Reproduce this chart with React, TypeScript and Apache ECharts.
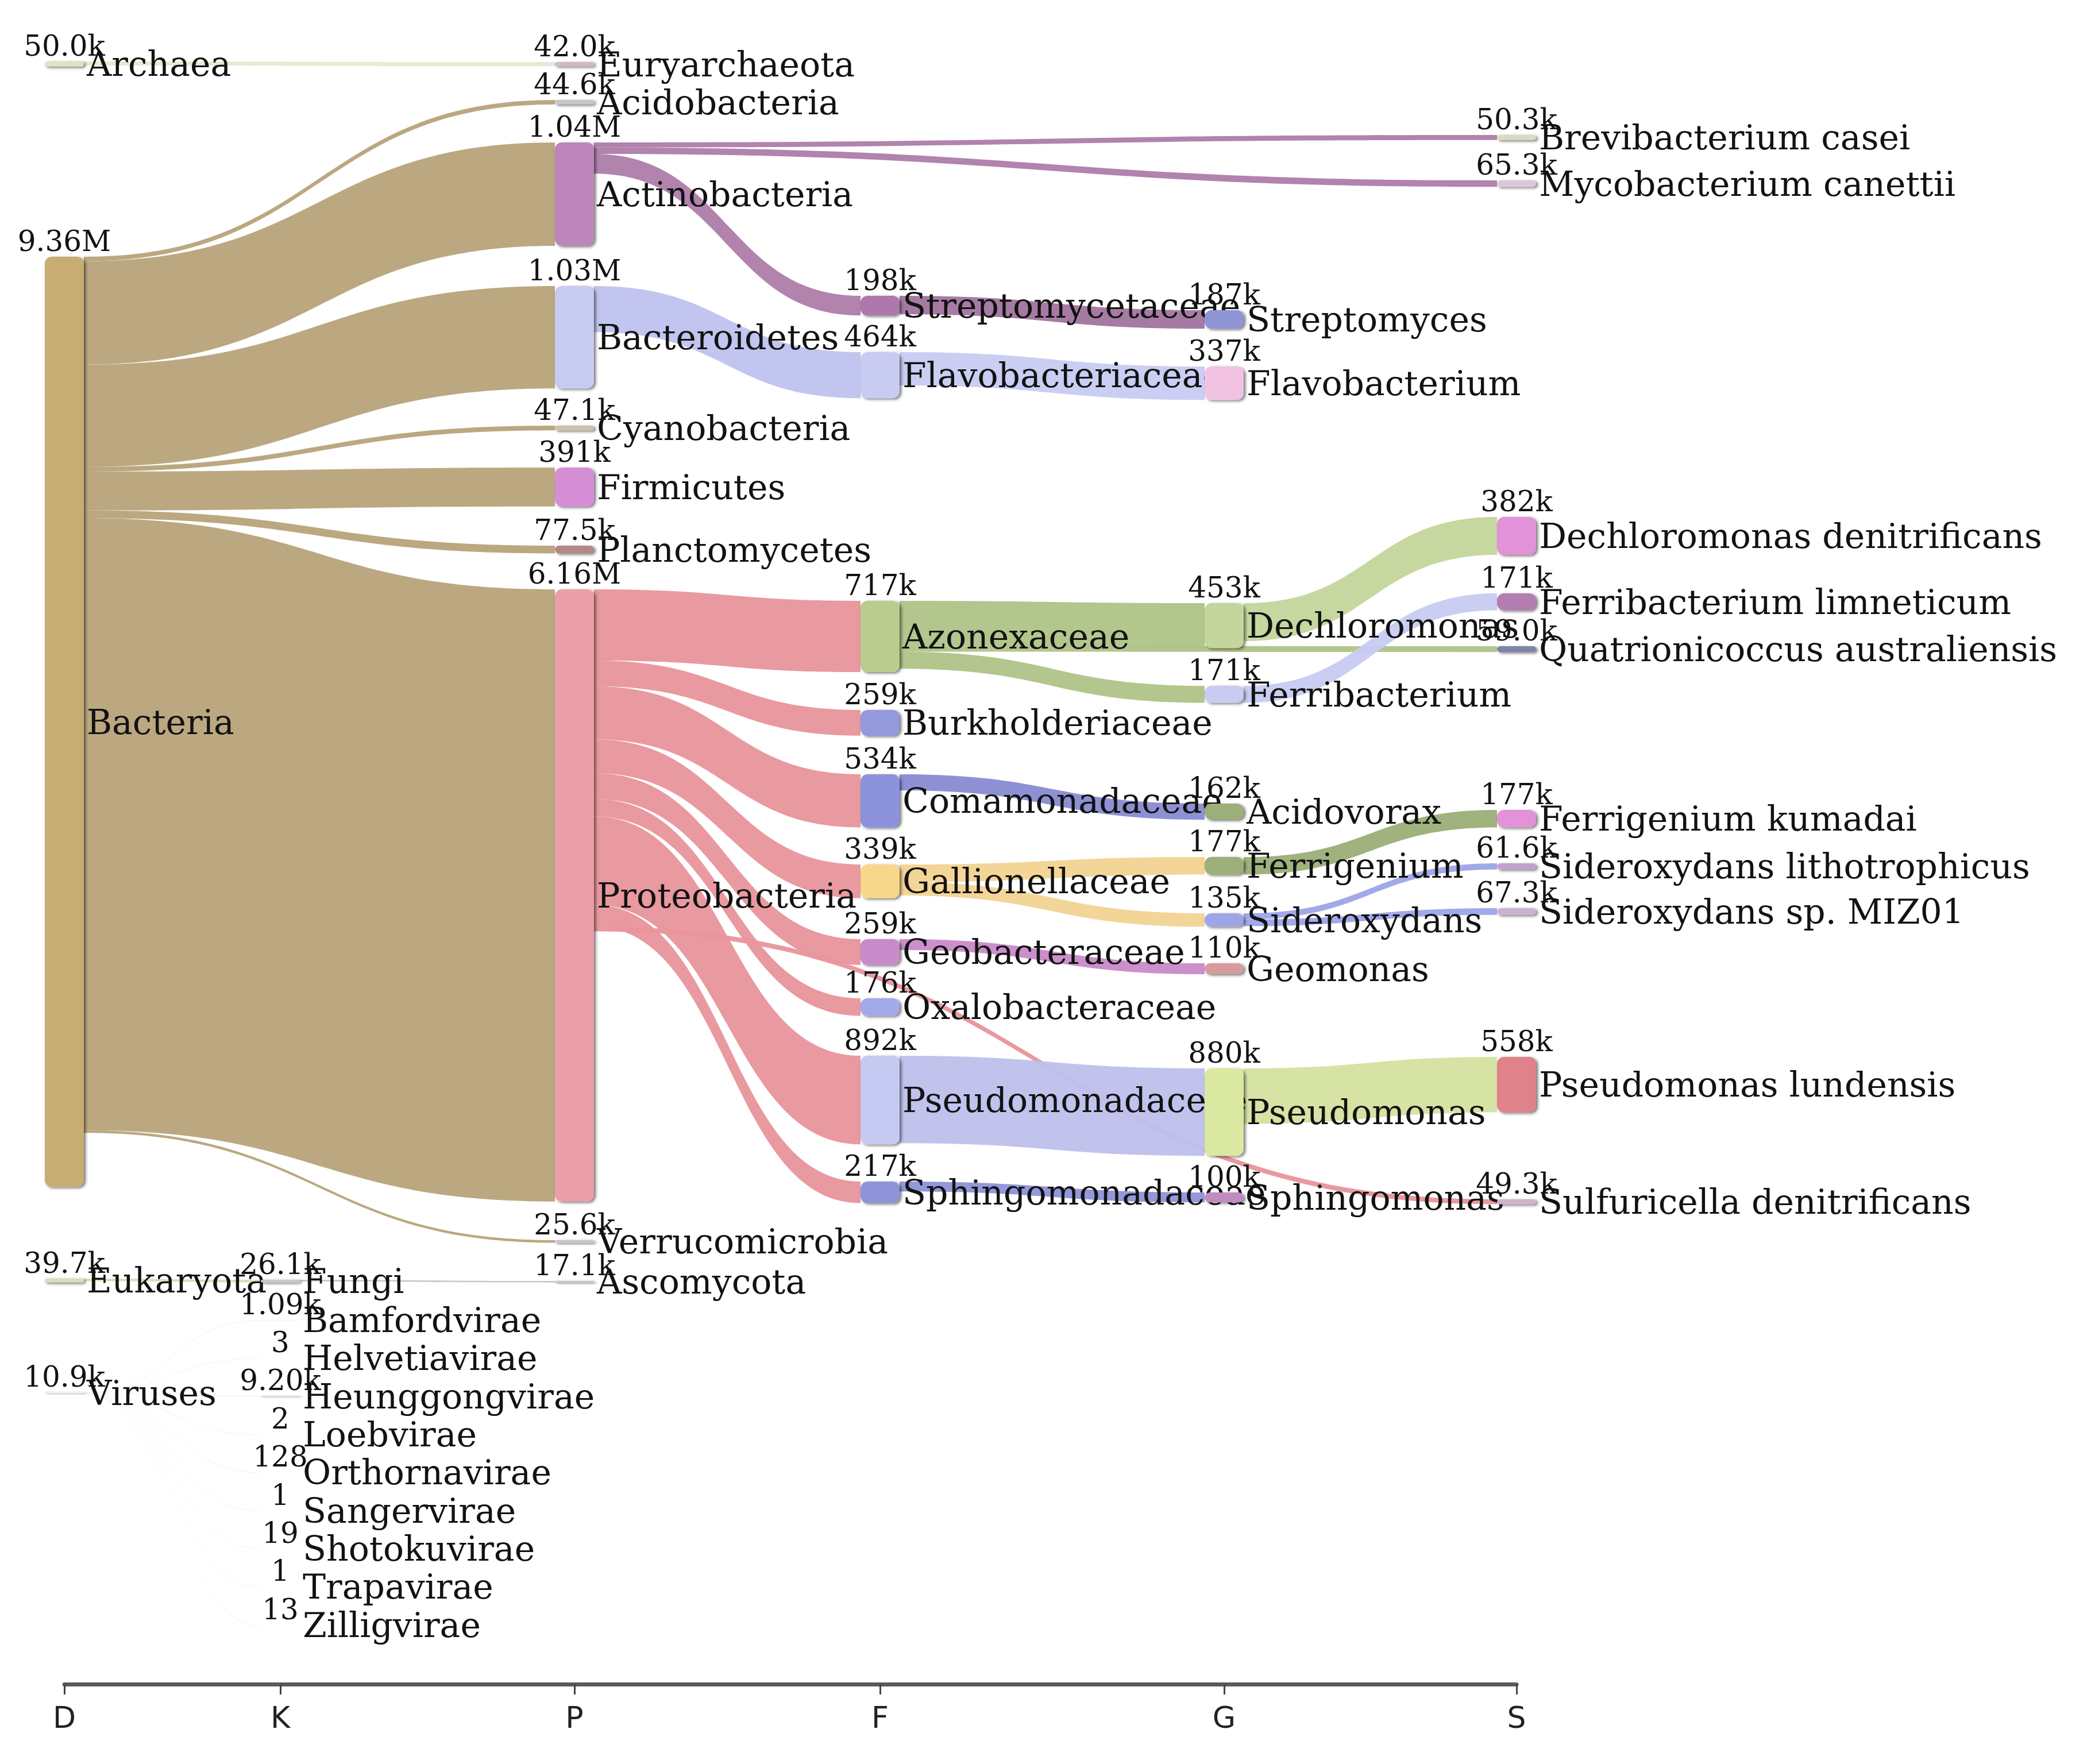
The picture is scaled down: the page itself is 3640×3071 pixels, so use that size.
import React, { useEffect, useRef } from "react";
import * as echarts from "echarts";

// ---------------- data ----------------
const rankLetters = ["D", "K", "P", "F", "G", "S"];

const domainNames = ["Archaea", "Bacteria", "Eukaryota", "Viruses"];
const domainReads = [50000, 9360000, 39700, 10900];

const kingdomNames = [
  "Fungi", "Bamfordvirae", "Helvetiavirae", "Heunggongvirae", "Loebvirae",
  "Orthornavirae", "Sangervirae", "Shotokuvirae", "Trapavirae", "Zilligvirae",
];
const kingdomReads = [26100, 1090, 3, 9200, 2, 128, 1, 19, 1, 13];

const phylumNames = [
  "Euryarchaeota", "Acidobacteria", "Actinobacteria", "Bacteroidetes", "Cyanobacteria",
  "Firmicutes", "Planctomycetes", "Proteobacteria", "Verrucomicrobia", "Ascomycota",
];
const phylumReads = [42000, 44600, 1040000, 1030000, 47100, 391000, 77500, 6160000, 25600, 17100];

const familyNames = [
  "Streptomycetaceae", "Flavobacteriaceae", "Azonexaceae", "Burkholderiaceae", "Comamonadaceae",
  "Gallionellaceae", "Geobacteraceae", "Oxalobacteraceae", "Pseudomonadaceae", "Sphingomonadaceae",
];
const familyReads = [198000, 464000, 717000, 259000, 534000, 339000, 259000, 176000, 892000, 217000];

const genusNames = [
  "Streptomyces", "Flavobacterium", "Dechloromonas", "Ferribacterium", "Acidovorax",
  "Ferrigenium", "Sideroxydans", "Geomonas", "Pseudomonas", "Sphingomonas",
];
const genusReads = [187000, 337000, 453000, 171000, 162000, 177000, 135000, 110000, 880000, 100000];

const speciesNames = [
  "Brevibacterium casei", "Mycobacterium canettii", "Dechloromonas denitrificans",
  "Ferribacterium limneticum", "Quatrionicoccus australiensis", "Ferrigenium kumadai",
  "Sideroxydans lithotrophicus", "Sideroxydans sp. MIZ01", "Pseudomonas lundensis",
  "Sulfuricella denitrificans",
];
const speciesReads = [50300, 65300, 382000, 171000, 59000, 177000, 61600, 67300, 558000, 49300];

// parent -> child (flow value = reads of the child); listed top-to-bottom per parent
const parentChild: [string, string][] = [
  ["Archaea", "Euryarchaeota"],
  ["Bacteria", "Acidobacteria"],
  ["Bacteria", "Actinobacteria"],
  ["Bacteria", "Bacteroidetes"],
  ["Bacteria", "Cyanobacteria"],
  ["Bacteria", "Firmicutes"],
  ["Bacteria", "Planctomycetes"],
  ["Bacteria", "Proteobacteria"],
  ["Bacteria", "Verrucomicrobia"],
  ["Eukaryota", "Fungi"],
  ["Fungi", "Ascomycota"],
  ["Viruses", "Bamfordvirae"],
  ["Viruses", "Helvetiavirae"],
  ["Viruses", "Heunggongvirae"],
  ["Viruses", "Loebvirae"],
  ["Viruses", "Orthornavirae"],
  ["Viruses", "Sangervirae"],
  ["Viruses", "Shotokuvirae"],
  ["Viruses", "Trapavirae"],
  ["Viruses", "Zilligvirae"],
  ["Actinobacteria", "Brevibacterium casei"],
  ["Actinobacteria", "Mycobacterium canettii"],
  ["Actinobacteria", "Streptomycetaceae"],
  ["Streptomycetaceae", "Streptomyces"],
  ["Bacteroidetes", "Flavobacteriaceae"],
  ["Flavobacteriaceae", "Flavobacterium"],
  ["Proteobacteria", "Azonexaceae"],
  ["Proteobacteria", "Burkholderiaceae"],
  ["Proteobacteria", "Comamonadaceae"],
  ["Proteobacteria", "Gallionellaceae"],
  ["Proteobacteria", "Geobacteraceae"],
  ["Proteobacteria", "Oxalobacteraceae"],
  ["Proteobacteria", "Pseudomonadaceae"],
  ["Proteobacteria", "Sphingomonadaceae"],
  ["Proteobacteria", "Sulfuricella denitrificans"],
  ["Azonexaceae", "Dechloromonas"],
  ["Azonexaceae", "Quatrionicoccus australiensis"],
  ["Azonexaceae", "Ferribacterium"],
  ["Dechloromonas", "Dechloromonas denitrificans"],
  ["Ferribacterium", "Ferribacterium limneticum"],
  ["Comamonadaceae", "Acidovorax"],
  ["Gallionellaceae", "Ferrigenium"],
  ["Gallionellaceae", "Sideroxydans"],
  ["Ferrigenium", "Ferrigenium kumadai"],
  ["Sideroxydans", "Sideroxydans lithotrophicus"],
  ["Sideroxydans", "Sideroxydans sp. MIZ01"],
  ["Geobacteraceae", "Geomonas"],
  ["Pseudomonadaceae", "Pseudomonas"],
  ["Pseudomonas", "Pseudomonas lundensis"],
  ["Sphingomonadaceae", "Sphingomonas"],
];

// ---------------- layout (pixels in the 3640 x 3071 page) ----------------
const columnCenterX = [112, 488, 1000, 1532, 2131, 2640];
const nodeTopY: Record<string, number> = {
  Archaea: 107, Bacteria: 447, Eukaryota: 2226, Viruses: 2424,
  Fungi: 2228, Bamfordvirae: 2298, Helvetiavirae: 2364, Heunggongvirae: 2430,
  Loebvirae: 2497, Orthornavirae: 2563, Sangervirae: 2630, Shotokuvirae: 2696,
  Trapavirae: 2762, Zilligvirae: 2829,
  Euryarchaeota: 108, Acidobacteria: 174, Actinobacteria: 248, Bacteroidetes: 498,
  Cyanobacteria: 741, Firmicutes: 814, Planctomycetes: 950, Proteobacteria: 1026,
  Verrucomicrobia: 2159, Ascomycota: 2230,
  Streptomycetaceae: 515, Flavobacteriaceae: 613, Azonexaceae: 1046, Burkholderiaceae: 1236,
  Comamonadaceae: 1348, Gallionellaceae: 1505, Geobacteraceae: 1635, Oxalobacteraceae: 1738,
  Pseudomonadaceae: 1838, Sphingomonadaceae: 2057,
  Streptomyces: 540, Flavobacterium: 638, Dechloromonas: 1050, Ferribacterium: 1194,
  Acidovorax: 1399, Ferrigenium: 1492, Sideroxydans: 1590, Geomonas: 1677,
  Pseudomonas: 1860, Sphingomonas: 2076,
  "Brevibacterium casei": 235, "Mycobacterium canettii": 314,
  "Dechloromonas denitrificans": 900, "Ferribacterium limneticum": 1033,
  "Quatrionicoccus australiensis": 1125, "Ferrigenium kumadai": 1410,
  "Sideroxydans lithotrophicus": 1503, "Sideroxydans sp. MIZ01": 1581,
  "Pseudomonas lundensis": 1840, "Sulfuricella denitrificans": 2088,
};

// ---------------- styles ----------------
const nodeColor: Record<string, string> = {
  Archaea: "#dfe3c2", Bacteria: "#c8ad72", Eukaryota: "#dcdcb8", Viruses: "#f2f2ea",
  Fungi: "#c8c8c8", Bamfordvirae: "#d6d6e6", Helvetiavirae: "#d6d6e6", Heunggongvirae: "#d6d6e6",
  Loebvirae: "#d6d6e6", Orthornavirae: "#d6d6e6", Sangervirae: "#d6d6e6", Shotokuvirae: "#d6d6e6",
  Trapavirae: "#d6d6e6", Zilligvirae: "#d6d6e6",
  Euryarchaeota: "#d8b4c8", Acidobacteria: "#c8c4cc", Actinobacteria: "#bd86bb",
  Bacteroidetes: "#c6cbf2", Cyanobacteria: "#c9c3a8", Firmicutes: "#d68ed6",
  Planctomycetes: "#b58888", Proteobacteria: "#eb9fa8", Verrucomicrobia: "#c6c6d0",
  Ascomycota: "#c8c8c8",
  Streptomycetaceae: "#ae78ac", Flavobacteriaceae: "#c8ccf2", Azonexaceae: "#bacd8e",
  Burkholderiaceae: "#9499dc", Comamonadaceae: "#8c93dc", Gallionellaceae: "#f6d78c",
  Geobacteraceae: "#c98ac9", Oxalobacteraceae: "#a2aaea", Pseudomonadaceae: "#c6caf2",
  Sphingomonadaceae: "#8f94d8",
  Streptomyces: "#8e94d6", Flavobacterium: "#f2c2e2", Dechloromonas: "#c4d69c",
  Ferribacterium: "#c8ccf2", Acidovorax: "#9caf78", Ferrigenium: "#9caf78",
  Sideroxydans: "#9ea6e8", Geomonas: "#d69c9c", Pseudomonas: "#dae8a2", Sphingomonas: "#c08cc0",
  "Brevibacterium casei": "#d8dcc2", "Mycobacterium canettii": "#dcc8dc",
  "Dechloromonas denitrificans": "#e192d8", "Ferribacterium limneticum": "#b27eb2",
  "Quatrionicoccus australiensis": "#7c84a8", "Ferrigenium kumadai": "#e192d8",
  "Sideroxydans lithotrophicus": "#c2a2cc", "Sideroxydans sp. MIZ01": "#cab4d4",
  "Pseudomonas lundensis": "#e0828a", "Sulfuricella denitrificans": "#d4b2c8",
};
// flow colours (by source) where they differ from the node fill
const flowColor: Record<string, string> = {
  Bacteria: "#b8a47b",
  Proteobacteria: "#e8959c",
  Actinobacteria: "#ae7eaa",
  Bacteroidetes: "#c0c3ee",
  Azonexaceae: "#b0c488",
  Pseudomonadaceae: "#bec1ec",
  Pseudomonas: "#d4e2a0",
  Gallionellaceae: "#f2d393",
  Comamonadaceae: "#888dd2",
  Streptomycetaceae: "#a2769f",
  Archaea: "#e6e9d2",
};

const PAGE_W = 3640;
const PAGE_H = 3071;
const NODE_W = 68;
const PX_PER_MILLION = 173;
const SANKEY_TOP = 447;
const SERIF = "'DejaVu Serif', serif";

function fmtReads(v: number): string {
  if (v >= 1e6) return (v / 1e6).toFixed(2) + "M";
  if (v >= 1e3) return (v / 1e3).toPrecision(3) + "k";
  return String(v);
}

export default function App() {
  const ref = useRef<HTMLDivElement>(null);

  useEffect(() => {
    if (!ref.current) return;
    const chart = echarts.init(ref.current, null, { renderer: "svg" });

    const columns: [string[], number[]][] = [
      [domainNames, domainReads],
      [kingdomNames, kingdomReads],
      [phylumNames, phylumReads],
      [familyNames, familyReads],
      [genusNames, genusReads],
      [speciesNames, speciesReads],
    ];
    const nodes: { name: string; value: number; col: number }[] = [];
    columns.forEach(([names, vals], col) =>
      names.forEach((n, i) => nodes.push({ name: n, value: vals[i], col }))
    );
    const readsOf: Record<string, number> = {};
    nodes.forEach((n) => (readsOf[n.name] = n.value));
    const maxReads = Math.max(...nodes.map((n) => n.value));
    const sankeyH = (maxReads / 1e6) * PX_PER_MILLION;

    const makeData = (styled: boolean) =>
      nodes.map((n, i) => ({
        name: n.name,
        value: n.value,
        depth: i,
        localX: (columnCenterX[n.col] - NODE_W / 2) / PAGE_W,
        localY: (nodeTopY[n.name] - SANKEY_TOP) / sankeyH,
        itemStyle: styled ? { color: nodeColor[n.name] } : undefined,
      }));

    const links = parentChild.map(([s, t]) => ({
      source: s,
      target: t,
      value: readsOf[t],
      lineStyle: { color: flowColor[s] ?? nodeColor[s] },
    }));

    const common = {
      type: "sankey",
      left: 0,
      top: SANKEY_TOP,
      width: PAGE_W,
      height: sankeyH,
      nodeWidth: NODE_W,
      nodeGap: 0,
      layoutIterations: 0,
      nodeAlign: "left",
      draggable: false,
      silent: true,
      emphasis: { disabled: true },
    };

    chart.setOption({
      animation: false,
      backgroundColor: "#ffffff",
      grid: { left: columnCenterX[0], width: columnCenterX[5] - columnCenterX[0], top: 2880, height: 52 },
      xAxis: {
        type: "value",
        min: columnCenterX[0],
        max: columnCenterX[5],
        axisLine: { show: true, lineStyle: { color: "#5a5a5a", width: 7 } },
        axisTick: { show: true, customValues: columnCenterX, length: 18, lineStyle: { color: "#444", width: 3 } },
        axisLabel: {
          show: true,
          customValues: columnCenterX,
          formatter: (v: number) => rankLetters[columnCenterX.indexOf(v)] ?? "",
          margin: 32,
          fontSize: 52,
          fontFamily: "'DejaVu Sans', sans-serif",
          color: "#222",
        },
        splitLine: { show: false },
      },
      yAxis: { type: "value", show: false },
      series: [
        // flows + name labels (nodes transparent here)
        {
          ...common,
          z: 2,
          data: makeData(false),
          links,
          itemStyle: { color: "rgba(0,0,0,0)", borderWidth: 0 },
          lineStyle: { opacity: 0.96, curveness: 0.5 },
          label: {
            show: true,
            position: "right",
            distance: 5,
            fontFamily: SERIF,
            fontSize: 60,
            color: "#121212",
            formatter: "{b}",
          },
        },
        // nodes drawn above the name labels
        {
          ...common,
          z: 3,
          data: makeData(true),
          links: [],
          itemStyle: {
            borderWidth: 0,
            borderRadius: 12,
            shadowBlur: 5,
            shadowOffsetX: 3,
            shadowOffsetY: 2,
            shadowColor: "rgba(0,0,0,0.55)",
          },
          label: { show: false },
        },
        // read counts above each node
        {
          ...common,
          z: 4,
          data: makeData(false),
          links: [],
          itemStyle: { color: "rgba(0,0,0,0)", borderWidth: 0 },
          label: {
            show: true,
            position: "top",
            distance: 2,
            fontFamily: SERIF,
            fontSize: 50,
            color: "#121212",
            formatter: (p: any) => fmtReads(readsOf[p.name]),
          },
        },
        { type: "scatter", data: [], silent: true },
      ],
    });

    return () => chart.dispose();
  }, []);

  return (
    <div
      ref={ref}
      style={{ position: "fixed", left: 0, top: 0, width: PAGE_W + "px", height: PAGE_H + "px", background: "#fff" }}
    />
  );
}
